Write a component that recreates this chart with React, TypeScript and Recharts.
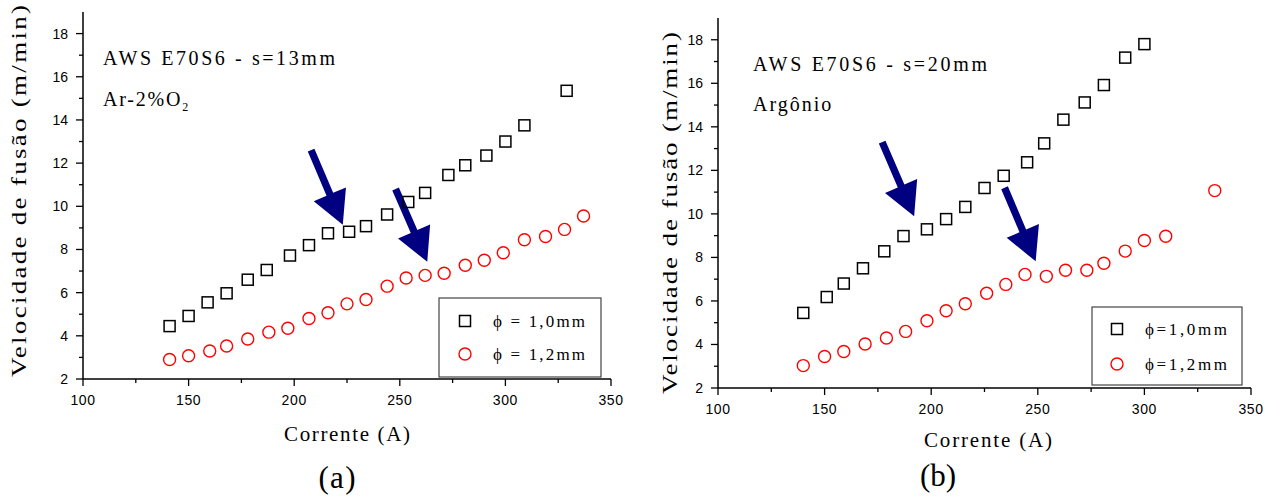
import { ScatterChart, Scatter, XAxis, YAxis, ReferenceLine } from 'recharts';

// Corrente (A) x velocidade de fusão (m/min), s = 13 mm, Ar-2%O2
const currentA10 = [141, 150, 159, 168, 178, 187, 198, 207, 216, 226, 234, 244, 254, 262, 273, 281, 291, 300, 309, 329];
const speedA10 = [4.45, 4.92, 5.55, 5.97, 6.6, 7.05, 7.72, 8.2, 8.75, 8.82, 9.08, 9.62, 10.2, 10.62, 11.45, 11.9, 12.35, 13.0, 13.75, 15.35];
const currentA12 = [141, 150, 160, 168, 178, 188, 197, 207, 216, 225, 234, 244, 253, 262, 271, 281, 290, 299, 309, 319, 328, 337];
const speedA12 = [2.9, 3.08, 3.3, 3.53, 3.85, 4.17, 4.35, 4.8, 5.07, 5.48, 5.68, 6.3, 6.68, 6.8, 6.9, 7.27, 7.5, 7.85, 8.45, 8.6, 8.93, 9.55];

// s = 20 mm, argônio
const currentB10 = [140, 151, 159, 168, 178, 187, 198, 207, 216, 225, 234, 245, 253, 262, 272, 281, 291, 300];
const speedB10 = [5.45, 6.18, 6.8, 7.5, 8.28, 8.98, 9.29, 9.76, 10.32, 11.19, 11.75, 12.37, 13.24, 14.33, 15.12, 15.92, 17.18, 17.8];
const currentB12 = [140, 150, 159, 169, 179, 188, 198, 207, 216, 226, 235, 244, 254, 263, 273, 281, 291, 300, 310, 333];
const speedB12 = [3.03, 3.45, 3.68, 4.02, 4.3, 4.6, 5.09, 5.55, 5.87, 6.35, 6.76, 7.22, 7.13, 7.41, 7.41, 7.73, 8.29, 8.78, 8.97, 11.07];

// arrows marking the transition, [x1, y1, x2, y2] in data units (tail -> tip)
const arrowsA = [
  [208, 12.6, 223, 9.15],
  [248, 10.8, 263, 7.43],
];
const arrowsB = [
  [177, 13.3, 192, 9.89],
  [234.4, 11.2, 249, 7.82],
];

const currentTicks = [100, 125, 150, 175, 200, 225, 250, 275, 300, 325, 350];
const speedTicks = [2, 3, 4, 5, 6, 7, 8, 9, 10, 11, 12, 13, 14, 15, 16, 17, 18];

const toPoints = (xs: number[], ys: number[]) => xs.map((x, i) => ({ x, y: ys[i] }));

const AXIS = { stroke: '#000', strokeWidth: 1.5 };
const SANS = 'Liberation Sans, Arial, sans-serif';
const SERIF = 'Liberation Serif, Times New Roman, serif';

type Side = 'bottom' | 'left' | 'top' | 'right';

const makeTick = (side: Side, majorStep: number) => (props: any) => {
  const { x, y, payload } = props;
  const v = payload.value;
  const major = v % majorStep === 0;
  const len = major ? 7 : 4;
  let line;
  if (side === 'bottom') line = <line x1={x} y1={y} x2={x} y2={y + len} />;
  else if (side === 'left') line = <line x1={x} y1={y} x2={x - len} y2={y} />;
  else if (side === 'top') line = <line x1={x} y1={y} x2={x} y2={y + len} />;
  else line = <line x1={x} y1={y} x2={x - len} y2={y} />;
  return (
    <g stroke="#000" strokeWidth={1.3}>
      {line}
      {major && side === 'bottom' && (
        <text x={x} y={y + 26} textAnchor="middle" fontSize={14} fontFamily={SANS} letterSpacing={0.6} stroke="none" fill="#000">
          {v}
        </text>
      )}
      {major && side === 'left' && (
        <text x={x - 15} y={y + 5} textAnchor="end" fontSize={14} fontFamily={SANS} stroke="none" fill="#000">
          {v}
        </text>
      )}
    </g>
  );
};

const bottomTick = makeTick('bottom', 50);
const topTick = makeTick('top', 50);
const leftTick = makeTick('left', 2);
const rightTick = makeTick('right', 2);

const squareShape = (p: any) => (
  <rect x={p.cx - 5.5} y={p.cy - 5.5} width={11} height={11} fill="none" stroke="#000" strokeWidth={1.5} />
);
const circleShape = (p: any) => <circle cx={p.cx} cy={p.cy} r={6} fill="none" stroke="#ff0000" strokeWidth={1.4} />;

// thick navy arrow with a wide triangular head
const arrowShape = (p: any) => {
  const { x1, y1, x2, y2 } = p;
  const dx = x2 - x1;
  const dy = y2 - y1;
  const len = Math.hypot(dx, dy) || 1;
  const ux = dx / len;
  const uy = dy / len;
  const nx = -uy;
  const ny = ux;
  const headLen = 33;
  const headHalf = 17.5;
  const shaftHalf = 3.6;
  const bx = x2 - ux * headLen;
  const by = y2 - uy * headLen;
  const pts = [
    [x1 + nx * shaftHalf, y1 + ny * shaftHalf],
    [bx + nx * shaftHalf, by + ny * shaftHalf],
    [bx + nx * headHalf, by + ny * headHalf],
    [x2, y2],
    [bx - nx * headHalf, by - ny * headHalf],
    [bx - nx * shaftHalf, by - ny * shaftHalf],
    [x1 - nx * shaftHalf, y1 - ny * shaftHalf],
  ];
  return <polygon points={pts.map((q) => q.join(',')).join(' ')} fill="#000080" />;
};

interface PanelProps {
  width: number;
  margin: { top: number; right: number; bottom: number; left: number };
  squares: { x: number; y: number }[];
  circles: { x: number; y: number }[];
  arrows: number[][];
}

const Panel = ({ width, margin, squares, circles, arrows }: PanelProps) => (
  <ScatterChart width={width} height={496} margin={margin}>
    <XAxis
      type="number"
      dataKey="x"
      domain={[100, 350]}
      ticks={currentTicks}
      interval={0}
      allowDataOverflow
      height={30}
      tickLine={false}
      tickSize={0}
      tickMargin={0}
      axisLine={AXIS}
      tick={bottomTick}
    />
    <XAxis
      xAxisId="top"
      orientation="top"
      type="number"
      domain={[100, 350]}
      ticks={currentTicks}
      interval={0}
      allowDataOverflow
      height={0}
      tickLine={false}
      tickSize={0}
      tickMargin={0}
      axisLine={AXIS}
      tick={topTick}
    />
    <YAxis
      type="number"
      dataKey="y"
      domain={[2, 19]}
      ticks={speedTicks}
      interval={0}
      allowDataOverflow
      width={40}
      tickLine={false}
      tickSize={0}
      tickMargin={0}
      axisLine={AXIS}
      tick={leftTick}
    />
    <YAxis
      yAxisId="right"
      orientation="right"
      type="number"
      domain={[2, 19]}
      ticks={speedTicks}
      interval={0}
      allowDataOverflow
      width={0}
      tickLine={false}
      tickSize={0}
      tickMargin={0}
      axisLine={AXIS}
      tick={rightTick}
    />
    <Scatter data={squares} shape={squareShape} isAnimationActive={false} />
    <Scatter data={circles} shape={circleShape} isAnimationActive={false} />
    {arrows.map((a, i) => (
      <ReferenceLine
        key={i}
        segment={[
          { x: a[0], y: a[1] },
          { x: a[2], y: a[3] },
        ]}
        ifOverflow="visible"
        shape={arrowShape}
      />
    ))}
  </ScatterChart>
);

const LegendBox = ({ x, y, w, h, sq, ci, tx, labels, textLen }: any) => (
  <g>
    <rect x={x} y={y} width={w} height={h} fill="#fff" stroke="#444" strokeWidth={1.2} />
    <rect x={sq[0] - 5.5} y={sq[1] - 5.5} width={11} height={11} fill="none" stroke="#000" strokeWidth={1.5} />
    <circle cx={ci[0]} cy={ci[1]} r={6} fill="none" stroke="#ff0000" strokeWidth={1.4} />
    <text x={tx} y={sq[1] + 6} fontSize={17} textLength={textLen} lengthAdjust="spacing">
      {labels[0]}
    </text>
    <text x={tx} y={ci[1] + 6} fontSize={17} textLength={textLen} lengthAdjust="spacing">
      {labels[1]}
    </text>
  </g>
);

// vertical axis title: glyphs drawn a bit elongated along the reading direction
const YTitle = ({ x, cy, length }: { x: number; cy: number; length: number }) => {
  const stretch = 1.35;
  return (
    <text
      transform={`translate(${x},${cy}) rotate(-90) scale(${stretch},1)`}
      textAnchor="middle"
      fontSize={20}
      textLength={length / stretch}
      lengthAdjust="spacing"
    >
      Velocidade de fusão (m/min)
    </text>
  );
};

const App = () => (
  <div style={{ position: 'absolute', left: 0, top: 0, width: 1272, height: 496, background: '#fff', overflow: 'hidden' }}>
    <div style={{ position: 'absolute', left: 0, top: 0 }}>
      <Panel
        width={640}
        margin={{ top: 12, right: 29, bottom: 87, left: 43 }}
        squares={toPoints(currentA10, speedA10)}
        circles={toPoints(currentA12, speedA12)}
        arrows={arrowsA}
      />
    </div>
    <div style={{ position: 'absolute', left: 640, top: 0 }}>
      <Panel
        width={632}
        margin={{ top: 18, right: 21, bottom: 78, left: 38 }}
        squares={toPoints(currentB10, speedB10)}
        circles={toPoints(currentB12, speedB12)}
        arrows={arrowsB}
      />
    </div>
    <svg
      width={1272}
      height={496}
      style={{ position: 'absolute', left: 0, top: 0, pointerEvents: 'none', fontFamily: SERIF }}
      fill="#000"
    >
      {/* (a) */}
      <text x={103} y={65} fontSize={20} textLength={232} lengthAdjust="spacing">AWS E70S6 - s=13mm</text>
      <text x={103} y={106} fontSize={20} letterSpacing={1.8}>
        Ar-2%O<tspan fontSize={12} dy={5}>2</tspan>
      </text>
      <YTitle x={26} cy={191} length={372} />
      <text x={347} y={441} textAnchor="middle" fontSize={21} textLength={126} lengthAdjust="spacing">Corrente (A)</text>
      <text x={337} y={488} textAnchor="middle" fontSize={31} textLength={37} lengthAdjust="spacing">(a)</text>
      <LegendBox x={439} y={298} w={162} h={79} sq={[465, 321]} ci={[465, 354]} tx={493} textLen={92} labels={['ϕ = 1,0mm', 'ϕ = 1,2mm']} />

      {/* (b) */}
      <text x={753} y={71} fontSize={20} textLength={234} lengthAdjust="spacing">AWS E70S6 - s=20mm</text>
      <text x={753} y={111} fontSize={20} letterSpacing={2}>Argônio</text>
      <YTitle x={677} cy={213} length={362} />
      <text x={988} y={447} textAnchor="middle" fontSize={21} textLength={128} lengthAdjust="spacing">Corrente (A)</text>
      <text x={938} y={486} textAnchor="middle" fontSize={31} textLength={36} lengthAdjust="spacing">(b)</text>
      <LegendBox x={1092} y={307} w={150} h={78} sq={[1117, 329]} ci={[1117, 364]} tx={1145} textLen={82} labels={['ϕ=1,0mm', 'ϕ=1,2mm']} />
    </svg>
  </div>
);

export default App;
